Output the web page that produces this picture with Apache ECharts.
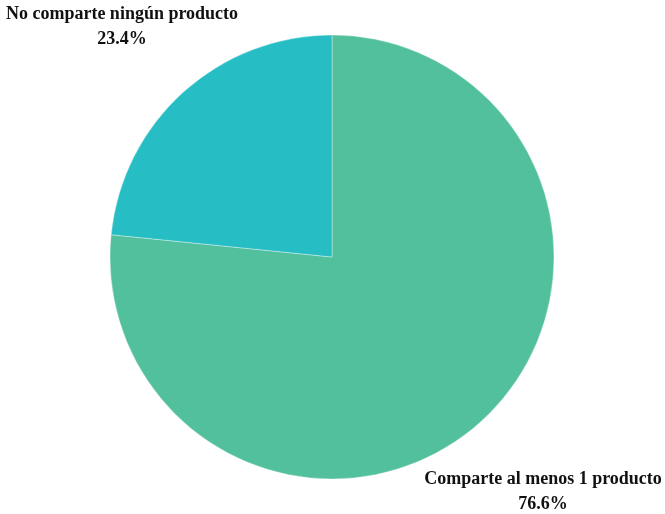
<!DOCTYPE html>
<html>
<head>
<meta charset="utf-8">
<script src="https://cdn.jsdelivr.net/npm/echarts@6/dist/echarts.min.js"></script>
<style>
  html, body { margin: 0; padding: 0; background: #fff; }
  #chart { width: 665px; height: 514px; }
</style>
</head>
<body>
<div id="chart"></div>
<script>
// Share of respondents by product-sharing behaviour
const categories = ['Comparte al menos 1 producto', 'No comparte ningún producto'];
const values = [76.6, 23.4];
const colors = ['#52C09C', '#26BEC4'];

// Label anchor points (pixels) for each slice
const labelSpots = [
  { x: 543, y: 492 },
  { x: 122, y: 27 }
];

const chart = echarts.init(document.getElementById('chart'), null, { renderer: 'canvas' });

chart.setOption({
  animation: false,
  backgroundColor: '#ffffff',
  series: [{
    type: 'pie',
    center: [332, 257],
    radius: [0, 222],
    startAngle: 90,
    clockwise: true,
    data: categories.map((name, i) => ({
      name,
      value: values[i],
      itemStyle: { color: colors[i] }
    })),
    itemStyle: { borderColor: 'rgba(255,255,255,0.6)', borderWidth: 0.6 },
    label: {
      show: true,
      formatter: p => p.name + '\n' + p.value.toFixed(1) + '%',
      fontFamily: '"Liberation Serif", "Times New Roman", serif',
      fontWeight: 'bold',
      fontSize: 18,
      lineHeight: 25,
      color: '#111',
      align: 'center',
      overflow: 'none',
      width: 400
    },
    labelLine: { show: false },
    labelLayout: params => ({
      x: labelSpots[params.dataIndex].x,
      y: labelSpots[params.dataIndex].y,
      align: 'center',
      verticalAlign: 'middle',
      hideOverlap: false,
      moveOverlap: false
    })
  }]
});
</script>
</body>
</html>
